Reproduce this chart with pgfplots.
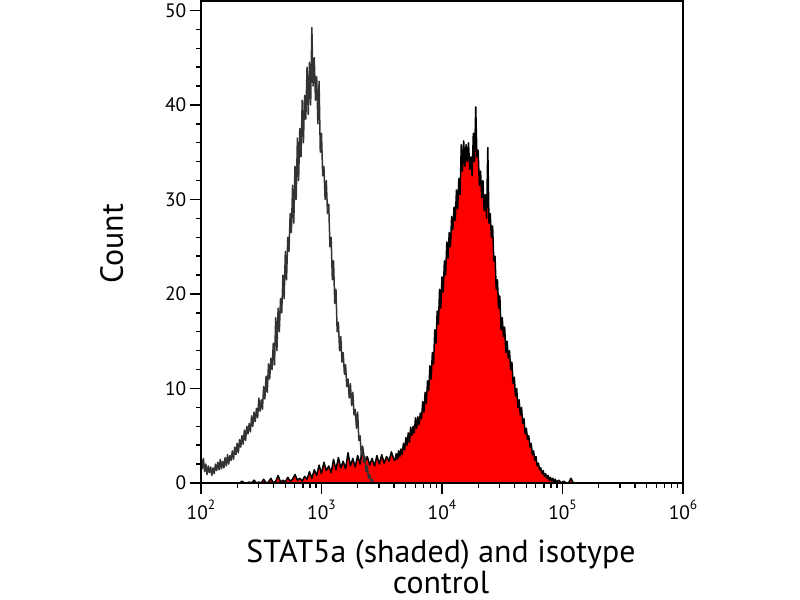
\documentclass[border=0pt]{standalone}
\usepackage{fontspec}
\setmainfont{PT Sans}
\usepackage{pgfplots}
\pgfplotsset{compat=1.18}
\definecolor{isogray}{HTML}{333333}
\newcommand{\dec}[1]{10\raisebox{10bp}{\fontsize{13.5}{14}\selectfont #1}}
\begin{document}
\begin{tikzpicture}
\path[use as bounding box] (-201bp,-117bp) rectangle (599bp,483bp);
\begin{axis}[
  at={(0,0)}, anchor=south west,
  scale only axis, width=482bp, height=482bp,
  xmin=2, xmax=6, ymin=0, ymax=51,
  axis on top,
  axis line style={line width=1.6bp},
  xtick={2,3,4,5,6},
  xticklabels={\dec{2},\dec{3},\dec{4},\dec{5},\dec{6}},
  minor xtick={2.30103,2.47712,2.60206,2.69897,2.77815,2.84510,2.90309,2.95424,
               3.30103,3.47712,3.60206,3.69897,3.77815,3.84510,3.90309,3.95424,
               4.30103,4.47712,4.60206,4.69897,4.77815,4.84510,4.90309,4.95424,
               5.30103,5.47712,5.60206,5.69897,5.77815,5.84510,5.90309,5.95424},
  ytick={0,10,20,30,40,50},
  minor y tick num=4,
  tick align=outside,
  xtick pos=bottom, ytick pos=left,
  major tick length=10.5bp, minor tick length=5bp,
  tick style={black, line width=1.4bp},
  tick label style={font=\fontsize{19.5}{24}\selectfont},
  /pgf/number format/assume math mode=true,
  yticklabel style={inner sep=0pt, xshift=-4bp},
  xticklabel style={inner sep=0pt, yshift=-6bp},
]
% STAT5a (shaded): x = log10 of fluorescence, y = count
\addplot[draw=black, fill=red, line width=1.5bp, line join=round] table {
x y
2.30 0
2.32 0
2.34 0.2
2.36 0
2.38 0
2.40 0.1
2.42 0
2.44 0.3
2.46 0
2.48 0.1
2.50 0
2.52 0.4
2.54 0
2.56 0.1
2.58 0.5
2.60 0
2.62 0.2
2.64 0.8
2.66 0.1
2.68 0.3
2.70 0.1
2.72 0.6
2.74 0.2
2.76 0.4
2.78 0.9
2.80 0.3
2.82 0.5
2.84 0.2
2.86 0.7
2.88 0.4
2.90 1.2
2.92 0.5
2.94 1.4
2.96 0.8
2.98 1.9
3.00 1.0
3.02 2.2
3.04 1.3
3.06 1.8
3.08 1.1
3.10 2.5
3.12 1.4
3.14 2.7
3.16 1.6
3.18 2.3
3.20 1.5
3.22 3.2
3.24 1.8
3.26 2.6
3.28 1.7
3.30 2.9
3.32 2.0
3.34 3.9
3.36 2.2
3.38 2.8
3.40 1.9
3.42 2.6
3.44 1.8
3.46 2.9
3.48 2.0
3.50 3.0
3.52 2.1
3.54 2.8
3.56 2.3
3.58 3.3
3.60 2.5
3.61 2.4
3.62 3.1
3.63 2.5
3.64 3.4
3.65 2.8
3.66 3.6
3.67 3.0
3.68 4.2
3.69 3.5
3.70 4.8
3.71 4.0
3.72 5.3
3.73 4.3
3.74 5.9
3.75 5.0
3.76 6.0
3.77 5.3
3.78 6.9
3.79 5.8
3.80 7.0
3.81 6.2
3.82 7.4
3.83 6.8
3.84 8.6
3.85 7.5
3.86 9.6
3.87 8.4
3.88 10.8
3.89 9.8
3.90 12.4
3.91 11.0
3.92 13.8
3.93 12.6
3.94 16.2
3.95 14.8
3.96 18.2
3.97 16.8
3.98 20.5
3.99 18.5
4.00 21.8
4.01 20.2
4.02 23.5
4.03 22.0
4.04 25.5
4.05 23.8
4.06 26.5
4.07 25.0
4.08 28.2
4.09 26.8
4.10 29.2
4.11 27.8
4.12 31.0
4.13 29.0
4.14 32.2
4.15 30.5
4.16 35.8
4.17 33.0
4.18 36.2
4.19 33.5
4.20 35.8
4.21 34.0
4.22 36.0
4.23 33.2
4.24 34.5
4.25 32.5
4.26 37.0
4.27 34.0
4.28 39.8
4.29 34.5
4.30 35.2
4.31 31.5
4.32 33.0
4.33 30.2
4.34 32.0
4.35 28.8
4.36 30.5
4.37 28.0
4.38 35.5
4.39 27.5
4.40 28.5
4.41 26.0
4.42 27.2
4.43 23.5
4.44 24.0
4.45 20.5
4.46 21.5
4.47 18.5
4.48 19.8
4.49 16.2
4.50 17.5
4.51 15.5
4.52 16.5
4.53 13.8
4.54 15.0
4.55 13.2
4.56 14.0
4.57 12.0
4.58 12.8
4.59 10.5
4.60 11.2
4.61 9.2
4.62 10.0
4.63 8.0
4.64 8.8
4.65 7.2
4.66 8.0
4.67 6.3
4.68 6.8
4.69 5.2
4.70 5.8
4.71 4.6
4.72 5.0
4.73 3.8
4.74 4.2
4.75 3.0
4.76 3.4
4.77 2.4
4.78 2.8
4.79 1.8
4.80 2.1
4.81 1.4
4.82 1.6
4.83 1.0
4.84 1.3
4.85 0.7
4.86 1.0
4.87 0.5
4.88 0.8
4.89 0.3
4.90 0.6
4.91 0.2
4.92 0.5
4.93 0.1
4.94 0.4
4.95 0.1
4.97 0.3
4.99 0
5.01 0.2
5.03 0
5.05 0
5.07 0.5
5.09 0
5.11 0
5.13 0
5.15 0
} \closedcycle;
% isotype control
\addplot[draw=isogray, line width=1.5bp, line join=round] table {
x y
2.00 2.8
2.01 1.5
2.02 2.6
2.03 1.2
2.04 2.0
2.05 0.9
2.06 1.8
2.07 1.1
2.08 1.7
2.09 0.8
2.10 1.6
2.11 1.0
2.12 2.0
2.13 1.3
2.14 2.2
2.15 1.4
2.16 2.5
2.17 1.5
2.18 2.3
2.19 1.6
2.20 2.7
2.21 1.8
2.22 3.0
2.23 2.0
2.24 2.9
2.25 2.4
2.26 3.4
2.27 2.5
2.28 3.8
2.29 3.0
2.30 4.2
2.31 3.2
2.32 4.6
2.33 3.8
2.34 5.0
2.35 4.1
2.36 5.6
2.37 4.5
2.38 6.0
2.39 5.2
2.40 6.3
2.41 5.4
2.42 7.1
2.43 6.0
2.44 7.5
2.45 6.5
2.46 7.9
2.47 6.9
2.48 9.0
2.49 7.6
2.50 8.8
2.51 7.8
2.52 10.2
2.53 8.9
2.54 11.3
2.55 9.6
2.56 12.6
2.57 11.0
2.58 13.2
2.59 12.0
2.60 14.8
2.61 12.5
2.62 17.5
2.63 14.0
2.64 18.5
2.65 16.0
2.66 19.5
2.67 18.0
2.68 22.0
2.69 19.5
2.70 24.5
2.71 21.5
2.72 26.0
2.73 24.5
2.74 28.5
2.75 26.5
2.76 31.5
2.77 27.5
2.78 33.5
2.79 30.0
2.80 36.5
2.81 32.0
2.82 37.5
2.83 34.5
2.84 40.5
2.85 36.0
2.86 41.0
2.87 38.5
2.88 44.0
2.89 39.0
2.90 44.5
2.91 40.0
2.92 48.2
2.93 42.0
2.94 45.0
2.95 40.5
2.96 43.0
2.97 38.0
2.98 42.5
2.99 35.0
3.00 37.0
3.01 32.5
3.02 33.5
3.03 30.0
3.04 32.0
3.05 28.5
3.06 29.5
3.07 25.0
3.08 26.0
3.09 21.5
3.10 23.5
3.11 19.0
3.12 20.5
3.13 16.0
3.14 17.0
3.15 14.0
3.16 15.5
3.17 12.8
3.18 13.8
3.19 11.5
3.20 12.5
3.21 10.2
3.22 11.0
3.23 9.0
3.24 10.5
3.25 8.2
3.26 9.6
3.27 7.2
3.28 7.8
3.29 5.8
3.30 7.5
3.31 4.5
3.32 5.0
3.33 3.0
3.34 3.8
3.35 2.2
3.36 2.8
3.37 1.2
3.38 1.8
3.39 0.5
3.40 0.9
3.41 0.2
3.42 0.4
3.43 0
3.45 0
};
\end{axis}
\node[anchor=base, inner sep=0pt, font=\fontsize{32}{36}\selectfont] at (240bp,-79bp) {STAT5a (shaded) and isotype};
\node[anchor=base, inner sep=0pt, font=\fontsize{32}{36}\selectfont] at (240bp,-110bp) {control};
\node[rotate=90, anchor=base, inner sep=0pt, font=\fontsize{32}{36}\selectfont] at (-78bp,239bp) {Count};
\end{tikzpicture}
\end{document}
